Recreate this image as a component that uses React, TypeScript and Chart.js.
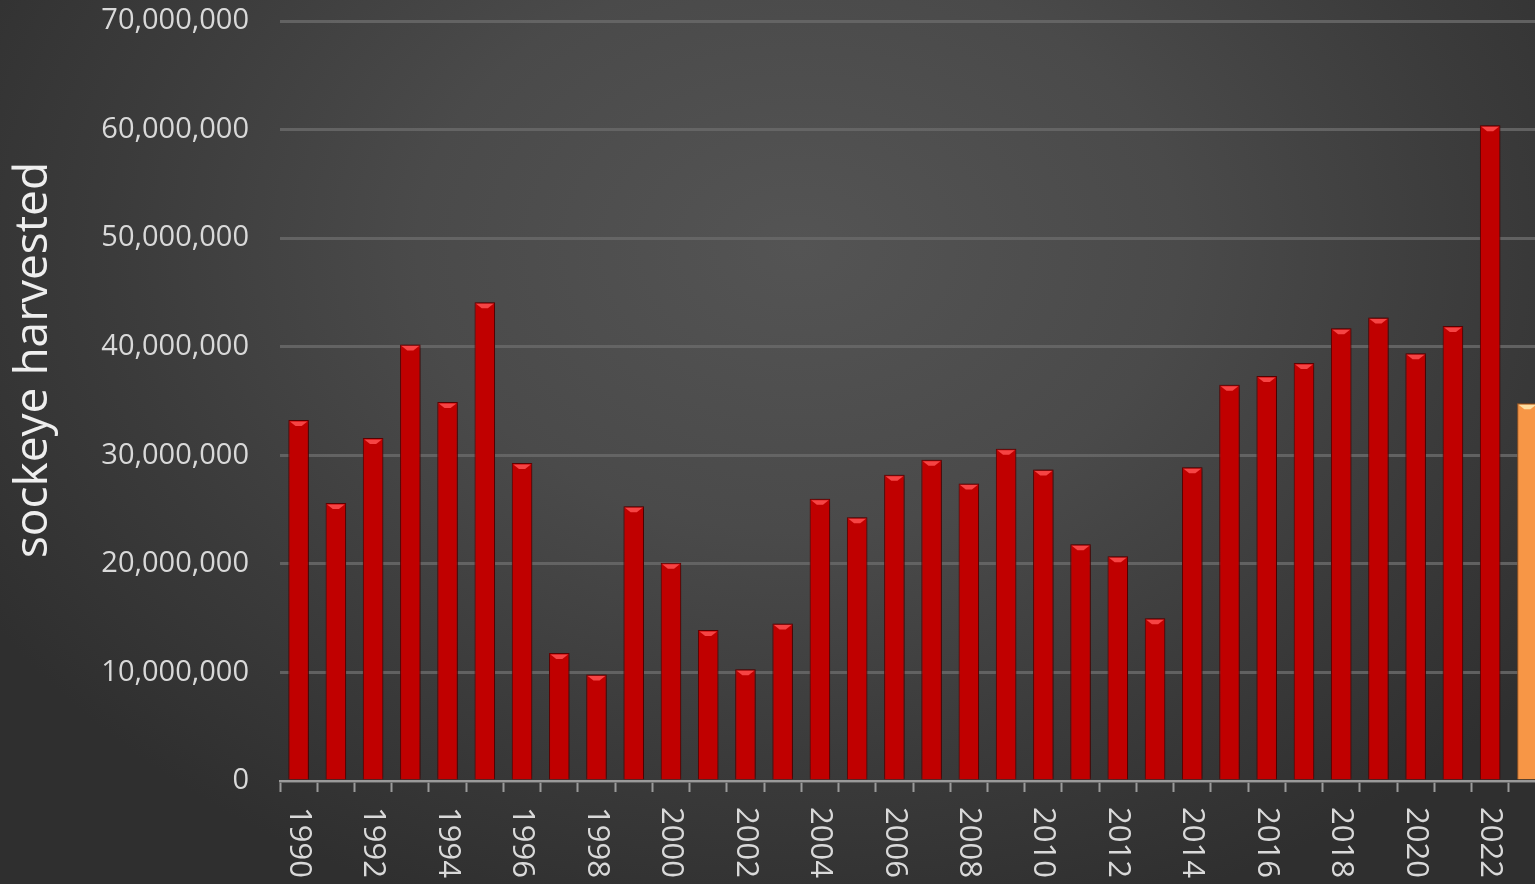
import React, { useEffect, useRef } from 'react';
import { Chart, registerables } from 'chart.js';

Chart.register(...registerables);

const years = [
  '1990', '1991', '1992', '1993', '1994', '1995', '1996', '1997', '1998', '1999',
  '2000', '2001', '2002', '2003', '2004', '2005', '2006', '2007', '2008', '2009',
  '2010', '2011', '2012', '2013', '2014', '2015', '2016', '2017', '2018', '2019',
  '2020', '2021', '2022', '2023',
];

const sockeyeHarvest = [
  33250000, 25600000, 31600000, 40200000, 34900000, 44100000, 29300000, 11800000, 9800000, 25300000,
  20100000, 13900000, 10300000, 14500000, 26000000, 24300000, 28200000, 29600000, 27400000, 30600000,
  28700000, 21800000, 20700000, 15000000, 28900000, 36500000, 37300000, 38500000, 41700000, 42700000,
  39400000, 41900000, 60400000, 34800000,
];

const forecastYears = ['2023'];

const yTickValues = [0, 10000000, 20000000, 30000000, 40000000, 50000000, 60000000, 70000000];

const xTickLabels = [
  '1990', '1992', '1994', '1996', '1998', '2000', '2002', '2004', '2006',
  '2008', '2010', '2012', '2014', '2016', '2018', '2020', '2022',
];

const yAxisTitle = 'sockeye harvested';

const RED = '#C00000';
const RED_BORDER = '#6e0000';
const ORANGE = '#F79646';
const ORANGE_BORDER = '#b8672a';
const FONT = "'Open Sans', 'DejaVu Sans', sans-serif";

const decorPlugin = {
  id: 'decor',
  beforeDatasetsDraw(chart: any) {
    const ctx = chart.ctx;
    ctx.save();
    ctx.shadowColor = 'rgba(0,0,0,0.55)';
    ctx.shadowBlur = 5;
    ctx.shadowOffsetX = 1;
    ctx.shadowOffsetY = 0;
  },
  afterDatasetsDraw(chart: any) {
    const ctx = chart.ctx;
    ctx.restore();
    const meta = chart.getDatasetMeta(0);
    meta.data.forEach((bar: any, i: number) => {
      const forecast = forecastYears.includes(years[i]);
      const w = bar.width;
      const x = bar.x;
      const y = bar.y;
      ctx.save();
      ctx.fillStyle = forecast ? 'rgba(255,230,170,0.9)' : 'rgba(255,80,80,0.85)';
      ctx.beginPath();
      ctx.moveTo(x - w / 2 + 1.5, y + 1.5);
      ctx.lineTo(x + w / 2 - 1.5, y + 1.5);
      ctx.lineTo(x + w * 0.15, y + 6);
      ctx.lineTo(x - w * 0.15, y + 6);
      ctx.closePath();
      ctx.fill();
      ctx.restore();
    });
  },
  afterDraw(chart: any) {
    const ctx = chart.ctx;
    const xScale = chart.scales.x;
    ctx.save();
    ctx.fillStyle = '#d9d9d9';
    ctx.font = `31px ${FONT}`;
    ctx.textAlign = 'left';
    ctx.textBaseline = 'middle';
    xTickLabels.forEach((lab) => {
      const idx = years.indexOf(lab);
      const px = xScale.getPixelForValue(idx);
      ctx.save();
      ctx.translate(px, 807);
      ctx.rotate(Math.PI / 2);
      ctx.fillText(lab, 0, 0);
      ctx.restore();
    });
    ctx.restore();

    ctx.save();
    ctx.fillStyle = '#eeeeee';
    ctx.font = `46px ${FONT}`;
    ctx.textAlign = 'center';
    ctx.textBaseline = 'middle';
    ctx.translate(34, 360);
    ctx.rotate(-Math.PI / 2);
    ctx.fillText(yAxisTitle, 0, 0);
    ctx.restore();
  },
};

export default function App() {
  const ref = useRef<HTMLCanvasElement>(null);
  useEffect(() => {
    document.body.style.margin = '0';
    document.body.style.overflow = 'hidden';
    const chart = new Chart(ref.current as HTMLCanvasElement, {
      type: 'bar',
      data: {
        labels: years,
        datasets: [
          {
            label: yAxisTitle,
            data: sockeyeHarvest,
            backgroundColor: years.map((y) => (forecastYears.includes(y) ? ORANGE : RED)),
            borderColor: years.map((y) => (forecastYears.includes(y) ? ORANGE_BORDER : RED_BORDER)),
            borderWidth: 1,
            barPercentage: 0.55,
            categoryPercentage: 1,
          },
        ],
      },
      options: {
        responsive: false,
        animation: false,
        devicePixelRatio: 1,
        layout: { padding: { left: 0, right: 0, top: 21, bottom: 92 } },
        plugins: {
          legend: { display: false },
          tooltip: { enabled: false },
        },
        scales: {
          x: {
            offset: true,
            ticks: { display: false },
            grid: {
              offset: true,
              drawOnChartArea: false,
              drawTicks: true,
              tickLength: 11,
              tickWidth: 2,
              tickColor: '#9a9a9a',
            },
            border: { display: true, color: '#9a9a9a', width: 2 },
          },
          y: {
            min: 0,
            max: 70000000,
            afterFit: (s: any) => {
              s.width = 280;
              s.paddingTop = 0;
              s.paddingBottom = 0;
            },
            afterBuildTicks: (s: any) => {
              s.ticks = yTickValues.map((v) => ({ value: v }));
            },
            ticks: {
              padding: 31,
              color: '#d9d9d9',
              font: { family: FONT, size: 29 },
              callback: (v: any) => Number(v).toLocaleString('en-US'),
            },
            grid: {
              drawTicks: false,
              color: 'rgba(105,105,105,0.85)',
              lineWidth: 3,
            },
            border: { display: false },
          },
        },
      },
      plugins: [decorPlugin],
    });
    return () => chart.destroy();
  }, []);

  return (
    <div
      style={{
        position: 'fixed',
        left: 0,
        top: 0,
        width: 1535,
        height: 884,
        overflow: 'hidden',
        background:
          'radial-gradient(ellipse 62% 80% at 52% 28%, #545454 0%, #4a4a4a 40%, #3b3b3b 72%, #2f2f2f 100%)',
      }}
    >
      <canvas ref={ref} width={1546} height={884} style={{ display: 'block' }} />
    </div>
  );
}
